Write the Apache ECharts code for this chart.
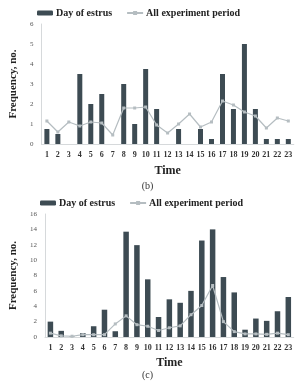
<!DOCTYPE html>
<html>
<head>
<meta charset="utf-8">
<script src="https://cdn.jsdelivr.net/npm/echarts@6/dist/echarts.min.js"></script>
<style>
  html, body { margin: 0; padding: 0; background: #fff; }
  #main { width: 295px; height: 386px; }
</style>
</head>
<body>
<div id="main"></div>
<script>
var hours = ['1','2','3','4','5','6','7','8','9','10','11','12','13','14','15','16','17','18','19','20','21','22','23'];

// panel (b)
var estrusB = [0.75,0.5,0,3.5,2,2.5,0,3,1,3.75,1.75,0,0.75,0,0.75,0.25,3.5,1.75,5,1.75,0.25,0.25,0.25];
var periodB = [1.15,0.6,1.1,0.9,1.1,1.05,0.45,1.8,1.8,1.85,0.95,0.55,1.0,1.5,0.85,1.1,2.15,1.95,1.6,1.4,0.8,1.3,1.15];

// panel (c)
var estrusC = [2.0,0.8,0.05,0.5,1.4,3.55,0.75,13.7,11.95,7.5,2.6,4.9,4.45,6.0,12.55,14.0,7.8,5.8,0.95,2.4,2.1,3.35,5.2];
var periodC = [0.5,0.15,0.1,0.3,0.3,0.3,1.7,2.75,1.6,1.4,0.85,1.2,1.45,2.9,4.1,6.7,2.0,0.7,0.4,0.4,0.35,0.5,0.3];

var serif = '"Liberation Serif", "DejaVu Serif", serif';
var barColor = '#3d4b53';
var lineColor = '#b5bdc1';
var axisColor = '#d6d9db';

var chart = echarts.init(document.getElementById('main'));

function xAxisFor(idx) {
  return {
    type: 'category', gridIndex: idx, data: hours,
    name: 'Time', nameLocation: 'middle', nameGap: idx === 0 ? 21 : 20,
    nameTextStyle: { fontFamily: serif, fontWeight: 'bold', fontSize: 12, color: '#222' },
    axisLine: { lineStyle: { color: axisColor } },
    axisTick: { show: false },
    axisLabel: { fontFamily: serif, fontWeight: 'bold', fontSize: 8, color: '#333', interval: 0, margin: 7 }
  };
}

function yAxisFor(idx, max, interval, gap) {
  return {
    type: 'value', gridIndex: idx, min: 0, max: max, interval: interval,
    name: 'Frequency, no.', nameLocation: 'middle', nameGap: gap,
    nameTextStyle: { fontFamily: serif, fontWeight: 'bold', fontSize: 11, color: '#222' },
    axisLine: { show: true, lineStyle: { color: axisColor } },
    axisTick: { show: false },
    splitLine: { show: false },
    axisLabel: { fontFamily: serif, fontSize: 7, color: '#555', margin: 8 }
  };
}

var legendStyle = {
  itemWidth: 16, itemHeight: 5, itemGap: 14,
  textStyle: { fontFamily: serif, fontWeight: 'bold', fontSize: 10, color: '#222', padding: [0, 0, 0, -2] }
};

chart.setOption({
  animation: false,
  title: [
    { text: '(b)', left: 'center', top: 176, textStyle: { fontFamily: serif, fontWeight: 'normal', fontSize: 10, color: '#333' } },
    { text: '(c)', left: 'center', top: 365, textStyle: { fontFamily: serif, fontWeight: 'normal', fontSize: 10, color: '#333' } }
  ],
  legend: [
    Object.assign({ left: 32, top: 3, data: ['Day of estrus', 'All experiment period'] }, legendStyle),
    Object.assign({ left: 35, top: 193, data: ['Day of estrus', 'All experiment period'] }, legendStyle)
  ],
  grid: [
    { left: 28, right: 0, top: 24, bottom: 242 },
    { left: 32, right: 0, top: 214, bottom: 49 }
  ],
  xAxis: [xAxisFor(0), xAxisFor(1)],
  yAxis: [yAxisFor(0, 6, 1, 22), yAxisFor(1, 16, 2, 26)],
  series: [
    { name: 'Day of estrus', type: 'bar', xAxisIndex: 0, yAxisIndex: 0, data: estrusB, barWidth: 5, itemStyle: { color: barColor } },
    { name: 'All experiment period', type: 'line', xAxisIndex: 0, yAxisIndex: 0, data: periodB,
      symbol: 'rect', symbolSize: 3, lineStyle: { color: lineColor, width: 1.2 }, itemStyle: { color: lineColor } },
    { name: 'Day of estrus', type: 'bar', xAxisIndex: 1, yAxisIndex: 1, data: estrusC, barWidth: 5.5, itemStyle: { color: barColor } },
    { name: 'All experiment period', type: 'line', xAxisIndex: 1, yAxisIndex: 1, data: periodC,
      symbol: 'rect', symbolSize: 3, lineStyle: { color: lineColor, width: 1.2 }, itemStyle: { color: lineColor } }
  ]
});
</script>
</body>
</html>
